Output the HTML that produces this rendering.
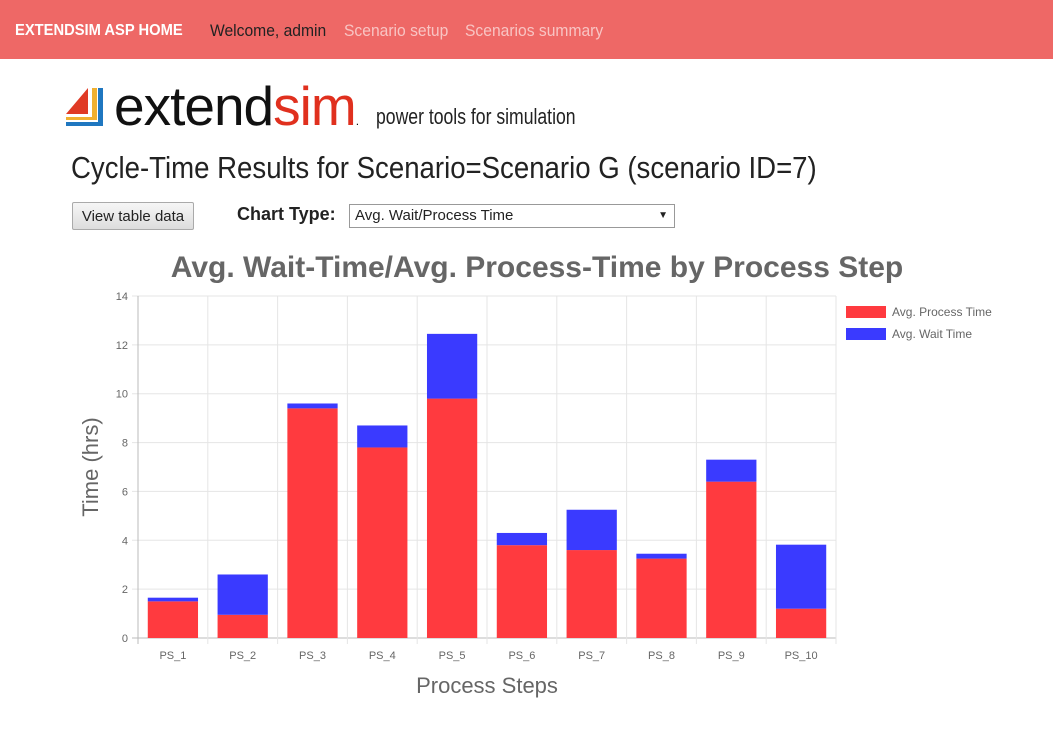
<!DOCTYPE html>
<html><head><meta charset="utf-8"><style>
body{margin:0;width:1053px;height:748px;background:#fff;font-family:"Liberation Sans",sans-serif;overflow:hidden;position:relative}
.nav{position:absolute;left:0;top:0;width:1053px;height:59px;background:#ee6866}
.nav span{position:absolute;top:21px;font-size:17px;transform:scaleX(0.92);transform-origin:left;white-space:nowrap}
.abs{position:absolute}
</style></head><body>
<div class="nav">
<span style="left:15px;color:#fff;font-weight:bold;font-size:16px;top:22px">EXTENDSIM ASP HOME</span>
<span style="left:210px;color:#222">Welcome, admin</span>
<span style="left:344px;color:#f8c4c3">Scenario setup</span>
<span style="left:465px;color:#f8c4c3">Scenarios summary</span>
</div>
<div class="abs" style="left:64px;top:86px;width:40px;height:42px">
<svg width="40" height="42"><polygon points="24,2 24,28 2,28" fill="#e03a25"/><rect x="28" y="2" width="5" height="31" fill="#f0b030"/><rect x="2" y="31" width="31" height="3" fill="#f0b030"/><rect x="34" y="2" width="5" height="38" fill="#1f77c0"/><rect x="2" y="36" width="37" height="4" fill="#1f77c0"/></svg>
</div>
<div class="abs" style="left:114px;top:74px;font-size:55px;letter-spacing:-1px;color:#111">extend<span style="color:#e0301e">sim</span><span style="font-size:12px">.</span></div>
<div class="abs" style="left:376px;top:104px;font-size:22px;color:#222;transform:scaleX(0.8);transform-origin:left;white-space:nowrap">power tools for simulation</div>
<div class="abs" style="left:71px;top:150px;font-size:31px;color:#222;transform:scaleX(0.89);transform-origin:left;white-space:nowrap">Cycle-Time Results for Scenario=Scenario G (scenario ID=7)</div>
<div class="abs" style="left:72px;top:202px;width:122px;height:28px;border:1px solid #aaa;background:linear-gradient(#f6f6f6,#ddd);font-size:15px;line-height:28px;text-align:center;color:#222;box-sizing:border-box;border-radius:2px">View table data</div>
<div class="abs" style="left:237px;top:204px;font-size:18px;font-weight:bold;color:#222">Chart Type:</div>
<div class="abs" style="left:349px;top:204px;width:326px;height:24px;border:1px solid #999;box-sizing:border-box;font-size:15px;line-height:22px;padding-left:5px;color:#222">Avg. Wait/Process Time<span style="position:absolute;right:6px;font-size:10px">▼</span></div>
<svg class="abs" style="left:0;top:0" width="1053" height="748" id="chart"></svg>
<script>
const categories=["PS_1","PS_2","PS_3","PS_4","PS_5","PS_6","PS_7","PS_8","PS_9","PS_10"];
const processTime=[1.5,0.95,9.4,7.8,9.8,3.8,3.6,3.25,6.4,1.2];
const waitTime=[0.15,1.65,0.2,0.9,2.65,0.5,1.65,0.2,0.9,2.62];
const yTicks=[0,2,4,6,8,10,12,14];
const NS="http://www.w3.org/2000/svg";
const svg=document.getElementById('chart');
const X0=138,X1=836,Y0=638,Y1=296,YMAX=14;
const y=v=>Y0-(Y0-Y1)*v/YMAX;
const bw=(X1-X0)/categories.length;
const xc=i=>X0+bw*(i+0.5);
function mk(t,a,txt){const e=document.createElementNS(NS,t);for(const k in a)e.setAttribute(k,a[k]);if(txt!=null)e.textContent=txt;svg.appendChild(e);return e;}
let e;
e=mk('text',{x:537,y:277,'text-anchor':'middle','font-size':30,'font-weight':'bold',fill:'#666'},'Avg. Wait-Time/Avg. Process-Time by Process Step');


yTicks.forEach(t=>{
 e=mk('line',{x1:X0-6,x2:X1,y1:y(t),y2:y(t),stroke:t===0?'#bbb':'#e5e5e5'});
 
 
 e=mk('text',{x:X0-10,y:y(t)+4,'text-anchor':'end','font-size':11,fill:'#666'},t);
 
 
});
for(let i=0;i<=categories.length;i++){
 e=mk('line',{x1:X0+bw*i,x2:X0+bw*i,y1:Y1,y2:Y0+6,stroke:i===0?'#bbb':'#e5e5e5'});
 
 
}
categories.forEach((c,i)=>{
 const w=bw*0.72,x=xc(i)-w/2;
 e=mk('rect',{x:x,y:y(processTime[i]),width:w,height:Y0-y(processTime[i]),fill:'#ff3a3f'});
 
 
 const tot=processTime[i]+waitTime[i];
 e=mk('rect',{x:x,y:y(tot),width:w,height:y(processTime[i])-y(tot),fill:'#3a3aff'});
 
 
 e=mk('text',{x:xc(i),y:Y0+21,'text-anchor':'middle','font-size':11,fill:'#666'},c);
 
 
});
e=mk('text',{x:487,y:693,'text-anchor':'middle','font-size':22,fill:'#666'},'Process Steps');


e=mk('text',{x:98,y:467,'text-anchor':'middle','font-size':22,fill:'#666',transform:'rotate(-90 98 467)'},'Time (hrs)');


[['Avg. Process Time','#ff3a3f'],['Avg. Wait Time','#3a3aff']].forEach((l,i)=>{
 e=mk('rect',{x:846,y:306+i*22,width:40,height:12,fill:l[1]});
 
 
 e=mk('text',{x:892,y:316+i*22,'font-size':12,fill:'#666'},l[0]);
 
 
});
</script>
</body></html>
